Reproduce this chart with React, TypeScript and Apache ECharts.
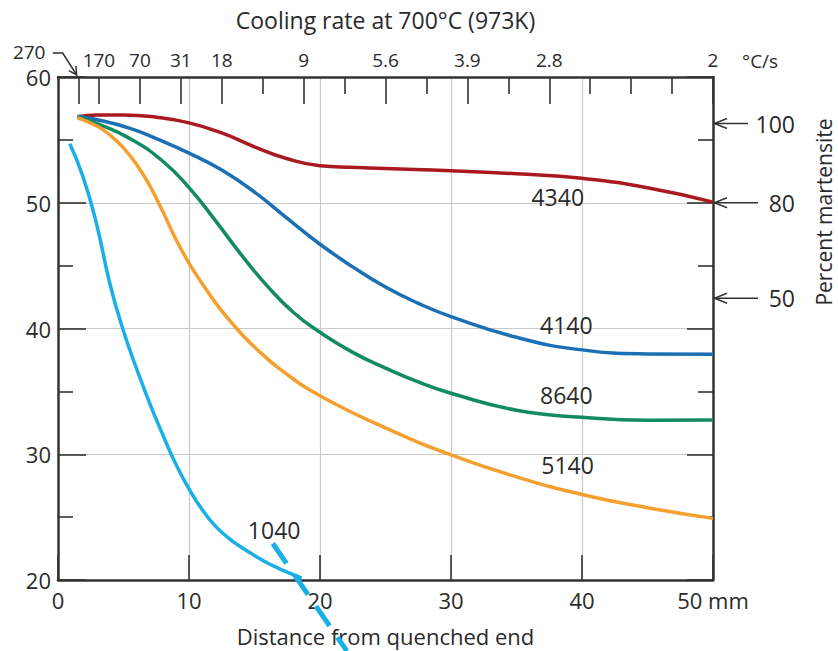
import React, { useEffect, useRef } from 'react';
import * as echarts from 'echarts';

// ---- Data (distance from quenched end in mm, hardness HRC) ----
const distance4340 = [1.5, 3, 5, 7.5, 10, 12.5, 15, 17.5, 20, 22.5, 25, 30, 35, 40, 45, 50];
const hardness4340 = [56.85, 56.97, 56.98, 56.8, 56.35, 55.55, 54.45, 53.5, 52.95, 52.82, 52.72, 52.55, 52.3, 51.94, 51.2, 50.05];

const distance4140 = [1.5, 3, 5.5, 7.5, 10, 12.5, 15, 17.5, 20, 22.5, 25, 27.5, 30, 35, 40, 45, 50];
const hardness4140 = [56.85, 56.6, 55.92, 55.1, 53.95, 52.6, 50.85, 48.75, 46.7, 44.9, 43.3, 42.0, 40.95, 39.3, 38.3, 37.98, 37.95];

const distance8640 = [1.5, 3, 5.5, 8, 10, 12, 14, 16, 18, 20, 22.5, 25, 27.5, 30, 35, 40, 45, 50];
const hardness8640 = [56.85, 56.3, 55.1, 53.3, 51.2, 48.6, 45.85, 43.35, 41.25, 39.7, 38.1, 36.85, 35.75, 34.85, 33.5, 32.94, 32.7, 32.72];

const distance5140 = [1.5, 3, 4, 5, 6, 7, 8, 9, 10, 11, 12, 13, 14, 15, 17, 20, 25, 30, 35, 40, 45, 50];
const hardness5140 = [56.75, 56.08, 55.36, 54.36, 53.04, 51.36, 49.3, 47.1, 45.2, 43.58, 42.08, 40.76, 39.58, 38.53, 36.73, 34.65, 32.1, 29.95, 28.2, 26.8, 25.75, 24.9];

const distance1040 = [0.9, 1.9, 2.9, 4.0, 5.0, 6.0, 7.0, 8.0, 9.0, 10.0, 11.0, 12.0, 13.0, 14.0, 15.0, 16.0, 17.0, 18.0, 18.6];
const hardness1040 = [54.7, 52.1, 48.5, 43.4, 39.8, 36.8, 34.05, 31.55, 29.2, 27.25, 25.6, 24.3, 23.35, 22.6, 21.95, 21.35, 20.85, 20.4, 20.15];

// leader line for the 1040 label
const leader1040Distance = [16.4, 22.05];
const leader1040Hardness = [22.9, 14.35];

// Top axis: cooling rate at 700 °C, ticks at 1/16-in steps of the Jominy bar
const coolingTickPositions = [1.5625, 3.125, 6.25, 9.375, 12.5, 18.75, 25, 31.25, 37.5, 50];
const coolingTickLabels = ['270', '170', '70', '31', '18', '9', '5.6', '3.9', '2.8', '2'];
const coolingMinorTicks = [15.625, 21.875, 28.125, 34.375, 40.625, 43.75, 46.875];

// Right scale: percent martensite, hardness where it applies
const martensiteLabels = ['100', '80', '50'];
const martensiteHardness = [56.3, 50.0, 42.4];
const martensiteArrowLength = [35, 45, 45];

const steelNames = ['4340', '4140', '8640', '5140', '1040'];
const steelColors = ['#a81a20', '#1b6fb5', '#128a63', '#f5a02e', '#19afe8'];
const labelDistance = [38.15, 38.8, 38.8, 38.9, 16.5];
const labelHardness = [50.46, 40.3, 34.7, 29.15, 23.98];

const FONT = '"Open Sans", "Noto Sans", sans-serif';
const TEXT = '#2a2a2a';
const AXIS = '#333333';
const GRIDC = '#c9c9c9';

const zip = (xs: number[], ys: number[]) => xs.map((x, i) => [x, ys[i]]);

export default function App() {
  const ref = useRef<HTMLDivElement>(null);

  useEffect(() => {
    document.body.style.margin = '0';
    if (!ref.current) return;
    const chart = echarts.init(ref.current, null, { renderer: 'svg' });

    const seriesData = [
      zip(distance4340, hardness4340),
      zip(distance4140, hardness4140),
      zip(distance8640, hardness8640),
      zip(distance5140, hardness5140),
      zip(distance1040, hardness1040),
    ];

    const axisLineStyle = { color: AXIS, width: 2.5 };

    const option: any = {
      animation: false,
      backgroundColor: '#ffffff',
      textStyle: { fontFamily: FONT },
      grid: { left: 58, right: 125, top: 77, bottom: 71, containLabel: false, outerBoundsMode: 'none' },
      xAxis: [
        {
          type: 'value',
          position: 'bottom',
          min: 0,
          max: 50,
          interval: 10,
          axisLine: { show: true, onZero: false, lineStyle: axisLineStyle },
          axisTick: { show: true, inside: true, length: 25, lineStyle: { color: AXIS, width: 1.6 } },
          axisLabel: {
            show: true,
            margin: 9,
            fontSize: 22,
            color: TEXT,
            fontFamily: FONT,
            formatter: (v: number) => (v === 50 ? '50 mm' : String(v)),
          },
          splitLine: { show: true, lineStyle: { color: GRIDC, width: 1.2 } },
          name: 'Distance from quenched end',
          nameLocation: 'middle',
          nameGap: 45,
          nameTextStyle: { fontSize: 22, color: TEXT, fontFamily: FONT },
        },
        {
          type: 'value',
          position: 'top',
          min: 0,
          max: 50,
          axisLine: { show: true, onZero: false, lineStyle: axisLineStyle },
          axisTick: {
            show: true,
            inside: true,
            length: 27,
            customValues: coolingTickPositions,
            lineStyle: { color: AXIS, width: 1.6 },
          },
          axisLabel: {
            show: true,
            customValues: coolingTickPositions.slice(1),
            margin: 8,
            fontSize: 19,
            color: TEXT,
            fontFamily: FONT,
            formatter: (v: number) => {
              const i = coolingTickPositions.findIndex((p) => Math.abs(p - v) < 1e-6);
              return i >= 0 ? coolingTickLabels[i] : '';
            },
          },
          splitLine: { show: false },
          name: 'Cooling rate at 700°C (973K)',
          nameLocation: 'middle',
          nameGap: 46,
          nameTextStyle: { fontSize: 23, color: TEXT, fontFamily: FONT },
        },
        {
          type: 'value',
          position: 'top',
          min: 0,
          max: 50,
          axisLine: { show: false, onZero: false },
          axisTick: {
            show: true,
            inside: true,
            length: 17,
            customValues: coolingMinorTicks,
            lineStyle: { color: AXIS, width: 1.6 },
          },
          axisLabel: { show: false },
          splitLine: { show: false },
        },
      ],
      yAxis: [
        {
          type: 'value',
          position: 'left',
          min: 20,
          max: 60,
          interval: 10,
          axisLine: { show: true, onZero: false, lineStyle: axisLineStyle },
          axisTick: { show: true, inside: true, length: 28, lineStyle: { color: AXIS, width: 1.6 } },
          minorTick: { show: true, splitNumber: 2, length: 15, lineStyle: { color: AXIS, width: 1.6 } },
          axisLabel: { show: true, margin: 7, fontSize: 22, color: TEXT, fontFamily: FONT },
          splitLine: { show: true, lineStyle: { color: GRIDC, width: 1.2 } },
        },
        {
          type: 'value',
          position: 'right',
          min: 20,
          max: 60,
          interval: 10,
          axisLine: { show: true, onZero: false, lineStyle: axisLineStyle },
          axisTick: { show: true, inside: true, length: 26, lineStyle: { color: AXIS, width: 1.6 } },
          minorTick: { show: true, splitNumber: 2, length: 15, lineStyle: { color: AXIS, width: 1.6 } },
          axisLabel: { show: false },
          splitLine: { show: false },
        },
      ],
      series: [
        ...seriesData.map((d, i) => ({
          name: steelNames[i],
          type: 'line',
          xAxisIndex: 0,
          yAxisIndex: 0,
          data: d,
          smooth: 0.5,
          showSymbol: false,
          symbol: 'none',
          lineStyle: { color: steelColors[i], width: 3.5 },
          z: 3,
        })),
        {
          name: '1040 leader',
          type: 'line',
          xAxisIndex: 0,
          yAxisIndex: 0,
          data: zip(leader1040Distance, leader1040Hardness),
          showSymbol: false,
          symbol: 'none',
          clip: false,
          lineStyle: { color: steelColors[4], width: 5, type: [24, 14], cap: 'butt' },
          z: 4,
        },
      ],
    };

    chart.setOption(option);

    const p = (x: number, y: number) => chart.convertToPixel({ seriesIndex: 0 }, [x, y]) as number[];
    const elements: any[] = [];

    // curve labels
    steelNames.forEach((name, i) => {
      const [cx, cy] = p(labelDistance[i], labelHardness[i]);
      elements.push({
        type: 'text',
        x: cx,
        y: cy,
        z: 10,
        style: { text: name, fontSize: 23, fontFamily: FONT, fill: TEXT, align: 'center', verticalAlign: 'middle' },
      });
    });

    // percent martensite arrows
    const [xr, yTop] = p(50, 60);
    martensiteLabels.forEach((lab, i) => {
      const y = p(50, martensiteHardness[i])[1];
      elements.push({
        type: 'line',
        z: 10,
        shape: { x1: xr + 1, y1: y, x2: xr + martensiteArrowLength[i], y2: y },
        style: { stroke: AXIS, lineWidth: 1.5 },
      });
      elements.push({
        type: 'polyline',
        z: 10,
        shape: { points: [[xr + 14, y - 5], [xr + 1.5, y], [xr + 14, y + 5]] },
        style: { stroke: AXIS, lineWidth: 1.5, fill: null },
      });
      elements.push({
        type: 'text',
        x: xr + 82,
        y,
        z: 10,
        style: { text: lab, fontSize: 23, fontFamily: FONT, fill: TEXT, align: 'right', verticalAlign: 'middle' },
      });
    });

    elements.push({
      type: 'text',
      x: xr + 111,
      y: yTop + 135,
      rotation: Math.PI / 2,
      z: 10,
      style: { text: 'Percent martensite', fontSize: 21, fontFamily: FONT, fill: TEXT, align: 'center', verticalAlign: 'middle' },
    });

    // 270 label with hooked arrow
    const [tx, ty] = p(coolingTickPositions[0], 60);
    const tip = [tx - 1.8, ty - 2];
    const hookPts = [[tx - 25.8, ty - 24], [tx - 15.8, ty - 24], tip];
    elements.push({
      type: 'polyline',
      z: 10,
      shape: { points: hookPts },
      style: { stroke: AXIS, lineWidth: 1.5, fill: null },
    });
    const dx = tip[0] - hookPts[1][0];
    const dy = tip[1] - hookPts[1][1];
    const len = Math.hypot(dx, dy);
    const ux = dx / len;
    const uy = dy / len;
    const ang = (28 * Math.PI) / 180;
    const arm = 9;
    const rot = (c: number, s: number) => [ux * c - uy * s, ux * s + uy * c];
    const a1 = rot(Math.cos(ang), Math.sin(ang));
    const a2 = rot(Math.cos(-ang), Math.sin(-ang));
    elements.push({
      type: 'polyline',
      z: 10,
      shape: {
        points: [
          [tip[0] - a1[0] * arm, tip[1] - a1[1] * arm],
          tip,
          [tip[0] - a2[0] * arm, tip[1] - a2[1] * arm],
        ],
      },
      style: { stroke: AXIS, lineWidth: 1.5, fill: null },
    });
    elements.push({
      type: 'text',
      x: tx - 33,
      y: ty - 25,
      z: 10,
      style: { text: coolingTickLabels[0], fontSize: 19, fontFamily: FONT, fill: TEXT, align: 'right', verticalAlign: 'middle' },
    });

    // unit of cooling rate
    elements.push({
      type: 'text',
      x: xr + 29,
      y: yTop - 16,
      z: 10,
      style: { text: '°C/s', fontSize: 19, fontFamily: FONT, fill: TEXT, align: 'left', verticalAlign: 'middle' },
    });

    chart.setOption({ graphic: { elements } });

    return () => chart.dispose();
  }, []);

  return <div ref={ref} style={{ width: 838, height: 651, position: 'absolute', left: 0, top: 0 }} />;
}
